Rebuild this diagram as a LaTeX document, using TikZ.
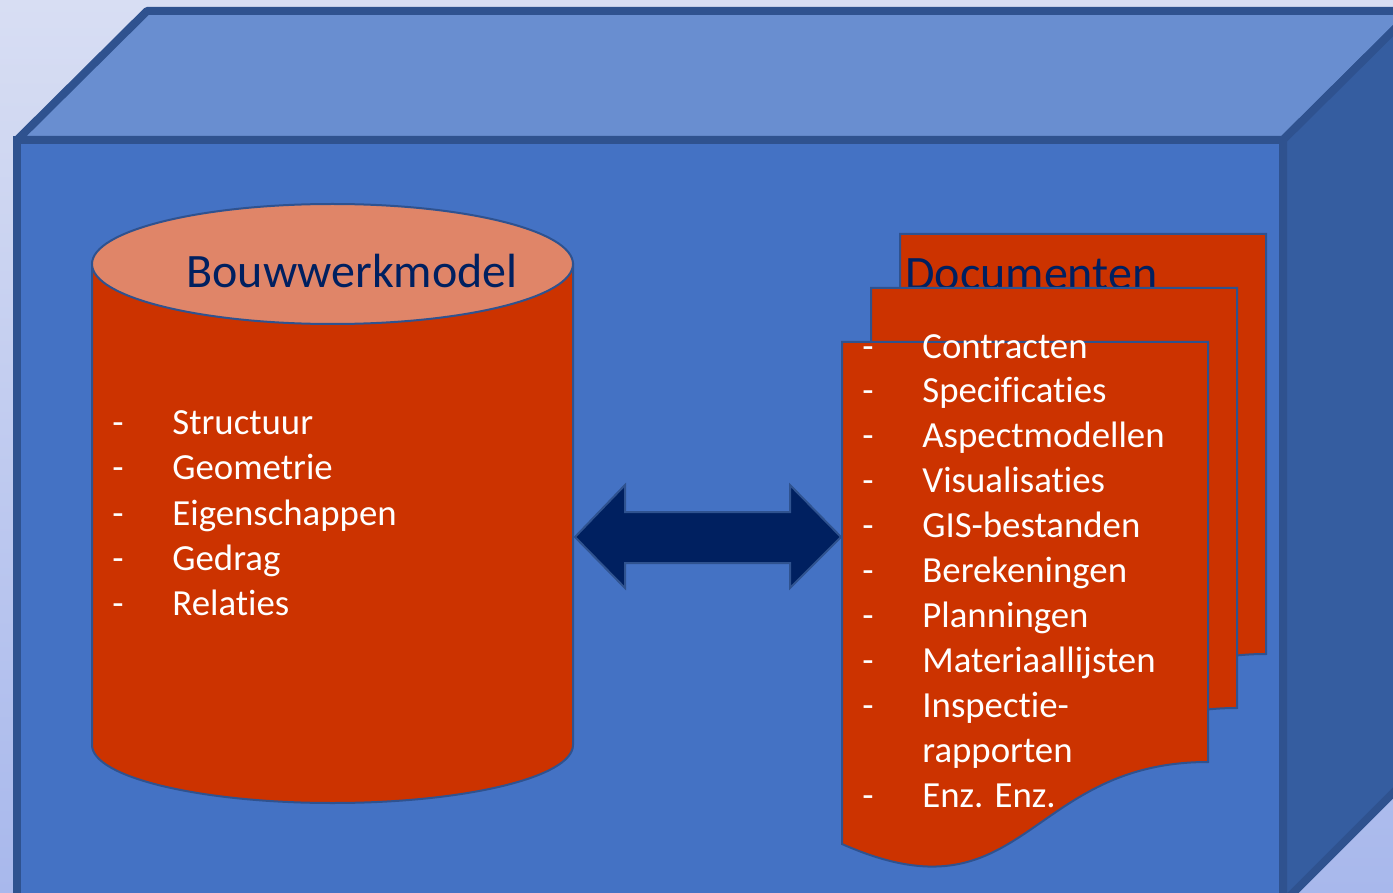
\documentclass[tikz,border=0pt]{standalone}
\usepackage{fontspec}
\setmainfont{Carlito}[Ligatures=NoCommon]
\definecolor{bgtop}{RGB}{216,222,243}
\definecolor{bgbot}{RGB}{168,184,236}
\definecolor{frontc}{RGB}{68,114,196}
\definecolor{topc}{RGB}{105,142,208}
\definecolor{sidec}{RGB}{53,93,160}
\definecolor{edgec}{RGB}{47,82,143}
\definecolor{redc}{RGB}{204,51,0}
\definecolor{salmonc}{RGB}{224,133,104}
\definecolor{navyc}{RGB}{0,32,96}
\tikzset{
  cubeface/.style={draw=edgec, line width=4pt, line join=bevel},
  shapeline/.style={draw=edgec, line width=1pt},
  pagebox/.style={shapeline, fill=redc},
  titletext/.style={anchor=base west, inner sep=0pt, text=navyc, font=\fontsize{24}{29}\selectfont},
  itemtext/.style={anchor=base west, inner sep=0pt, text=white, font=\fontsize{18.4}{22}\selectfont},
  docpage/.pic={
    \path[pagebox] (0,0) -- (366,0) -- (366,420) .. controls (183,420) and (183,583) .. (0,502) -- cycle;
  },
}
\begin{document}
\begin{tikzpicture}[x=0.5pt, y=-0.5pt]
\useasboundingbox (0,0) rectangle (1393,893);
% background
\shade[top color=bgtop, bottom color=bgbot] (0,0) rectangle (1393,893);
% cube
\begin{scope}
\clip (0,0) rectangle (1393,893);
\path[cubeface, fill=topc] (17,140) -- (147,11) -- (1413,11) -- (1283,140) -- cycle;
\path[cubeface, fill=sidec] (1283,140) -- (1413,11) -- (1413,773) -- (1283,903) -- cycle;
\path[cubeface, line join=miter, fill=frontc] (17,140) rectangle (1283,903);
\end{scope}
% cylinder
\coordinate (cylL) at (92,264);
\path[pagebox] (cylL) -- (92,745) arc[start angle=180, end angle=0, x radius=240.5, y radius=58] -- (573,264) -- cycle;
\path[shapeline, fill=salmonc] (332.5,264) ellipse [x radius=240.5, y radius=60];
\node[titletext] (cyltitle) at (186,288) {Bouwwerkmodel};
\foreach \t [count=\i from 0] in {Structuur,Geometrie,Eigenschappen,Gedrag,Relaties}{
  \node[itemtext] (ld\i) at (112,435+45*\i) {-};
  \node[itemtext] (lt\i) at (172,435+45*\i) {\t};
}
% documents: back page, title, middle page, front page
\pic at (900,234) {docpage};
\node[titletext] (doctitle) at (905,290) {Documenten};
\pic at (871,288) {docpage};
\pic at (842,342) {docpage};
\foreach \t [count=\i from 0] in {Contracten,Specificaties,Aspectmodellen,Visualisaties,GIS-bestanden,Berekeningen,Planningen,Materiaallijsten,Inspectie-}{
  \node[itemtext] (rd\i) at (862,358+44.9*\i) {-};
  \node[itemtext] (rt\i) at (922,358+44.9*\i) {\t};
}
\node[itemtext] (rt9) at (922,358+44.9*9) {rapporten};
\node[itemtext] (rd10) at (862,358+44.9*10) {-};
\node[itemtext] (rt10) at (922,358+44.9*10) {Enz. Enz.};
% double arrow
\path[shapeline, fill=navyc, line join=miter]
  (575,537) -- (625,485) -- (625,512) -- (790,512) -- (790,485) -- (841,537)
  -- (790,588) -- (790,563) -- (625,563) -- (625,588) -- cycle;
\end{tikzpicture}
\end{document}
